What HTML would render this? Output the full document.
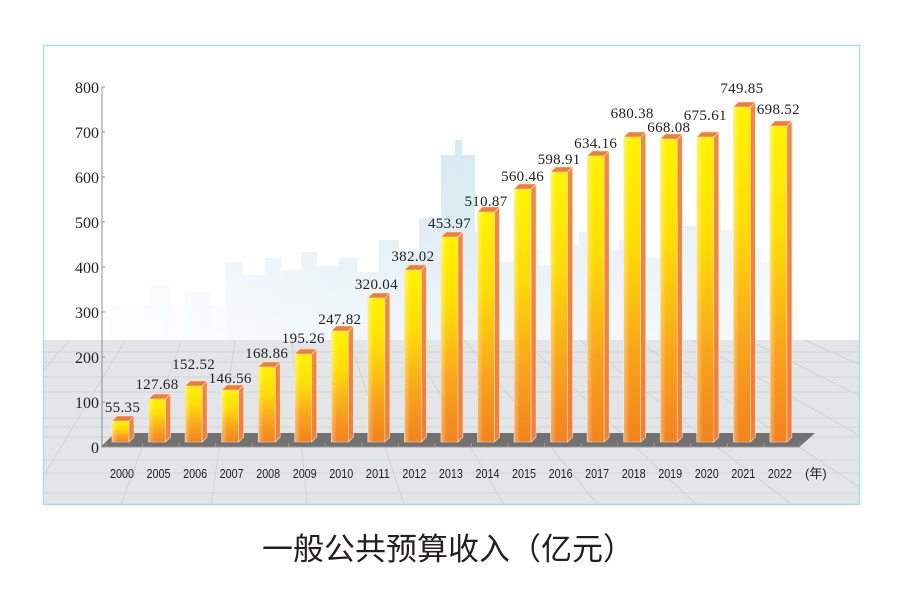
<!DOCTYPE html>
<html><head><meta charset="utf-8"><style>
html,body{margin:0;padding:0;background:#fff;}
svg{display:block;}
.v{font-family:"Liberation Serif",serif;font-size:15px;fill:#222;letter-spacing:0.3px;}
.y{font-family:"Liberation Serif",serif;font-size:16px;fill:#222;}
.x{font-family:"Liberation Sans",sans-serif;font-size:12.5px;fill:#222;}
</style></head><body>
<svg width="900" height="596" viewBox="0 0 900 596" xmlns="http://www.w3.org/2000/svg">
<defs>
<linearGradient id="gf" x1="0" y1="0" x2="0" y2="1">
<stop offset="0" stop-color="#fff400"/><stop offset="0.35" stop-color="#ffdc06"/><stop offset="0.7" stop-color="#f9a51c"/><stop offset="1" stop-color="#f2821f"/>
</linearGradient>
<linearGradient id="gh" x1="0" y1="0" x2="1" y2="0">
<stop offset="0" stop-color="#fff" stop-opacity="0.35"/><stop offset="0.35" stop-color="#fff" stop-opacity="0"/>
</linearGradient>
<linearGradient id="gs" x1="0" y1="0" x2="0" y2="1">
<stop offset="0" stop-color="#f08848"/><stop offset="1" stop-color="#ee8040"/>
</linearGradient>
<linearGradient id="haze" x1="0" y1="0" x2="0" y2="1">
<stop offset="0" stop-color="#fff" stop-opacity="0"/><stop offset="0.6" stop-color="#fff" stop-opacity="0.25"/><stop offset="1" stop-color="#fff" stop-opacity="0.55"/>
</linearGradient>
<linearGradient id="hfade" x1="0" y1="0" x2="1" y2="0">
<stop offset="0" stop-color="#fff" stop-opacity="1"/><stop offset="0.12" stop-color="#fff" stop-opacity="0.55"/><stop offset="0.42" stop-color="#fff" stop-opacity="0"/><stop offset="0.8" stop-color="#fff" stop-opacity="0.15"/><stop offset="1" stop-color="#fff" stop-opacity="0.85"/>
</linearGradient>
<clipPath id="floor"><rect x="43" y="340" width="817" height="165"/></clipPath>
</defs>

<!-- panel -->
<rect x="43" y="45" width="817" height="460" fill="#fff"/>
<!-- city -->
<g fill="#dcebf3" opacity="0.85">
<rect x="110" y="305" width="115" height="35" fill="#eaf3f7"/>
<rect x="150" y="285" width="20" height="55" fill="#e6f1f6"/>
<rect x="185" y="292" width="25" height="48" fill="#e6f1f6"/>
<rect x="225" y="262" width="18" height="78"/>
<rect x="243" y="275" width="22" height="65"/>
<rect x="265" y="258" width="16" height="82"/>
<rect x="281" y="270" width="20" height="70"/>
<rect x="301" y="252" width="16" height="88"/>
<rect x="317" y="266" width="22" height="74"/>
<rect x="339" y="258" width="18" height="82"/>
<rect x="357" y="272" width="22" height="68"/>
<rect x="379" y="240" width="20" height="100"/>
<rect x="399" y="252" width="20" height="88"/>
<rect x="419" y="218" width="22" height="122" fill="#d4e7f1"/>
<rect x="441" y="155" width="34" height="185" fill="#d0e4ef"/>
<rect x="455" y="140" width="7" height="18" fill="#d0e4ef"/>
<rect x="475" y="232" width="24" height="108" fill="#d6e8f1"/>
<rect x="499" y="262" width="20" height="78"/>
<rect x="519" y="250" width="20" height="90"/>
<rect x="539" y="265" width="20" height="75"/>
<rect x="559" y="245" width="20" height="95"/>
<rect x="579" y="232" width="20" height="108"/>
<rect x="599" y="250" width="20" height="90"/>
<rect x="619" y="240" width="22" height="100"/>
<rect x="641" y="258" width="20" height="82"/>
<rect x="661" y="212" width="22" height="128"/>
<rect x="683" y="226" width="18" height="114"/>
<rect x="701" y="200" width="20" height="140"/>
<rect x="721" y="230" width="20" height="110"/>
<rect x="741" y="248" width="20" height="92"/>
<rect x="761" y="262" width="30" height="78"/>
</g>
<rect x="43" y="130" width="817" height="210" fill="url(#haze)"/>
<rect x="43" y="130" width="817" height="210" fill="url(#hfade)"/>

<!-- floor -->
<rect x="43" y="340" width="817" height="165" fill="#e3e6e8"/>
<g clip-path="url(#floor)" stroke="#cdd1d4" stroke-width="0.9" fill="none">
<line x1="270" y1="100" x2="-259" y2="505"/>
<line x1="270" y1="100" x2="-164" y2="505"/>
<line x1="270" y1="100" x2="-69" y2="505"/>
<line x1="270" y1="100" x2="26" y2="505"/>
<line x1="270" y1="100" x2="121" y2="505"/>
<line x1="270" y1="100" x2="211" y2="505"/>
<line x1="270" y1="100" x2="307" y2="505"/>
<line x1="270" y1="100" x2="404" y2="505"/>
<line x1="270" y1="100" x2="504" y2="505"/>
<line x1="270" y1="100" x2="598" y2="505"/>
<line x1="270" y1="100" x2="697" y2="505"/>
<line x1="270" y1="100" x2="792" y2="505"/>
<line x1="270" y1="100" x2="887" y2="505"/>
<line x1="270" y1="100" x2="982" y2="505"/>
<line x1="270" y1="100" x2="1077" y2="505"/>
<line x1="270" y1="100" x2="1172" y2="505"/>
</g>
<g stroke="#d3d7d9" stroke-width="0.9">
<line x1="43" y1="352" x2="860" y2="352"/>
<line x1="43" y1="362" x2="860" y2="362"/>
<line x1="43" y1="377" x2="860" y2="377"/>
<line x1="43" y1="392" x2="860" y2="392"/>
<line x1="43" y1="418" x2="860" y2="418"/>
<line x1="43" y1="427" x2="860" y2="427"/>
<line x1="43" y1="437" x2="860" y2="437"/>
<line x1="43" y1="460" x2="860" y2="460"/>
<line x1="43" y1="473" x2="860" y2="473"/>
<line x1="43" y1="493" x2="860" y2="493"/>
</g>
<rect x="43.5" y="45.5" width="816" height="459" fill="none" stroke="#a9dfe9" stroke-width="1.5"/>

<!-- slab -->
<polygon points="101,446.5 115,433 815,433 800,446.5" fill="#727272"/>
<g stroke="#9a9a9a" stroke-width="1">
<line x1="101" y1="447" x2="800" y2="447"/>
<line x1="106" y1="443" x2="106" y2="447"/><line x1="142.5" y1="443" x2="142.5" y2="447"/><line x1="179.1" y1="443" x2="179.1" y2="447"/><line x1="215.6" y1="443" x2="215.6" y2="447"/><line x1="252.2" y1="443" x2="252.2" y2="447"/><line x1="288.7" y1="443" x2="288.7" y2="447"/><line x1="325.3" y1="443" x2="325.3" y2="447"/><line x1="361.8" y1="443" x2="361.8" y2="447"/><line x1="398.4" y1="443" x2="398.4" y2="447"/><line x1="434.9" y1="443" x2="434.9" y2="447"/><line x1="471.5" y1="443" x2="471.5" y2="447"/><line x1="508" y1="443" x2="508" y2="447"/><line x1="544.6" y1="443" x2="544.6" y2="447"/><line x1="581.1" y1="443" x2="581.1" y2="447"/><line x1="617.7" y1="443" x2="617.7" y2="447"/><line x1="654.2" y1="443" x2="654.2" y2="447"/><line x1="690.8" y1="443" x2="690.8" y2="447"/><line x1="727.3" y1="443" x2="727.3" y2="447"/><line x1="763.9" y1="443" x2="763.9" y2="447"/><line x1="800" y1="443" x2="800" y2="447"/>
</g>

<!-- y axis -->
<g stroke="#8c8c8c" stroke-width="1">
<line x1="102" y1="87" x2="102" y2="447"/>
<line x1="102" y1="87" x2="105" y2="87"/><line x1="102" y1="132" x2="105" y2="132"/><line x1="102" y1="177" x2="105" y2="177"/><line x1="102" y1="222" x2="105" y2="222"/><line x1="102" y1="267" x2="105" y2="267"/><line x1="102" y1="312" x2="105" y2="312"/><line x1="102" y1="357" x2="105" y2="357"/><line x1="102" y1="402" x2="105" y2="402"/>
</g>
<g class="y" text-anchor="end">
<text x="99" y="93">800</text><text x="99" y="138">700</text><text x="99" y="183">600</text><text x="99" y="228">500</text><text x="99" y="273">400</text><text x="99" y="318">300</text><text x="99" y="363">200</text><text x="99" y="408">100</text><text x="99" y="453">0</text>
</g>

<!-- bars -->
<g stroke="#ffe2c4" stroke-width="0.6" stroke-linejoin="round">
<g transform="translate(112,0)"><rect x="0" y="421" width="17" height="21" fill="url(#gf)"/><rect x="0" y="421" width="17" height="21" fill="url(#gh)" stroke="none"/><polygon points="17,421 22,416 22,437 17,442" fill="url(#gs)"/><polygon points="0,421 5,416 22,416 17,421" fill="#f07c3a"/></g>
<g transform="translate(148.55,0)"><rect x="0" y="399" width="17" height="43" fill="url(#gf)"/><rect x="0" y="399" width="17" height="43" fill="url(#gh)" stroke="none"/><polygon points="17,399 22,394 22,437 17,442" fill="url(#gs)"/><polygon points="0,399 5,394 22,394 17,399" fill="#f07c3a"/></g>
<g transform="translate(185.1,0)"><rect x="0" y="386" width="17" height="56" fill="url(#gf)"/><rect x="0" y="386" width="17" height="56" fill="url(#gh)" stroke="none"/><polygon points="17,386 22,381 22,437 17,442" fill="url(#gs)"/><polygon points="0,386 5,381 22,381 17,386" fill="#f07c3a"/></g>
<g transform="translate(221.65,0)"><rect x="0" y="390" width="17" height="52" fill="url(#gf)"/><rect x="0" y="390" width="17" height="52" fill="url(#gh)" stroke="none"/><polygon points="17,390 22,385 22,437 17,442" fill="url(#gs)"/><polygon points="0,390 5,385 22,385 17,390" fill="#f07c3a"/></g>
<g transform="translate(258.2,0)"><rect x="0" y="367" width="17" height="75" fill="url(#gf)"/><rect x="0" y="367" width="17" height="75" fill="url(#gh)" stroke="none"/><polygon points="17,367 22,362 22,437 17,442" fill="url(#gs)"/><polygon points="0,367 5,362 22,362 17,367" fill="#f07c3a"/></g>
<g transform="translate(294.75,0)"><rect x="0" y="354" width="17" height="88" fill="url(#gf)"/><rect x="0" y="354" width="17" height="88" fill="url(#gh)" stroke="none"/><polygon points="17,354 22,349 22,437 17,442" fill="url(#gs)"/><polygon points="0,354 5,349 22,349 17,354" fill="#f07c3a"/></g>
<g transform="translate(331.3,0)"><rect x="0" y="331" width="17" height="111" fill="url(#gf)"/><rect x="0" y="331" width="17" height="111" fill="url(#gh)" stroke="none"/><polygon points="17,331 22,326 22,437 17,442" fill="url(#gs)"/><polygon points="0,331 5,326 22,326 17,331" fill="#f07c3a"/></g>
<g transform="translate(367.85,0)"><rect x="0" y="298" width="17" height="144" fill="url(#gf)"/><rect x="0" y="298" width="17" height="144" fill="url(#gh)" stroke="none"/><polygon points="17,298 22,293 22,437 17,442" fill="url(#gs)"/><polygon points="0,298 5,293 22,293 17,298" fill="#f07c3a"/></g>
<g transform="translate(404.4,0)"><rect x="0" y="270" width="17" height="172" fill="url(#gf)"/><rect x="0" y="270" width="17" height="172" fill="url(#gh)" stroke="none"/><polygon points="17,270 22,265 22,437 17,442" fill="url(#gs)"/><polygon points="0,270 5,265 22,265 17,270" fill="#f07c3a"/></g>
<g transform="translate(440.95,0)"><rect x="0" y="237" width="17" height="205" fill="url(#gf)"/><rect x="0" y="237" width="17" height="205" fill="url(#gh)" stroke="none"/><polygon points="17,237 22,232 22,437 17,442" fill="url(#gs)"/><polygon points="0,237 5,232 22,232 17,237" fill="#f07c3a"/></g>
<g transform="translate(477.5,0)"><rect x="0" y="212" width="17" height="230" fill="url(#gf)"/><rect x="0" y="212" width="17" height="230" fill="url(#gh)" stroke="none"/><polygon points="17,212 22,207 22,437 17,442" fill="url(#gs)"/><polygon points="0,212 5,207 22,207 17,212" fill="#f07c3a"/></g>
<g transform="translate(514.05,0)"><rect x="0" y="189" width="17" height="253" fill="url(#gf)"/><rect x="0" y="189" width="17" height="253" fill="url(#gh)" stroke="none"/><polygon points="17,189 22,184 22,437 17,442" fill="url(#gs)"/><polygon points="0,189 5,184 22,184 17,189" fill="#f07c3a"/></g>
<g transform="translate(550.6,0)"><rect x="0" y="172" width="17" height="270" fill="url(#gf)"/><rect x="0" y="172" width="17" height="270" fill="url(#gh)" stroke="none"/><polygon points="17,172 22,167 22,437 17,442" fill="url(#gs)"/><polygon points="0,172 5,167 22,167 17,172" fill="#f07c3a"/></g>
<g transform="translate(587.15,0)"><rect x="0" y="156" width="17" height="286" fill="url(#gf)"/><rect x="0" y="156" width="17" height="286" fill="url(#gh)" stroke="none"/><polygon points="17,156 22,151 22,437 17,442" fill="url(#gs)"/><polygon points="0,156 5,151 22,151 17,156" fill="#f07c3a"/></g>
<g transform="translate(623.7,0)"><rect x="0" y="137" width="17" height="305" fill="url(#gf)"/><rect x="0" y="137" width="17" height="305" fill="url(#gh)" stroke="none"/><polygon points="17,137 22,132 22,437 17,442" fill="url(#gs)"/><polygon points="0,137 5,132 22,132 17,137" fill="#f07c3a"/></g>
<g transform="translate(660.25,0)"><rect x="0" y="139" width="17" height="303" fill="url(#gf)"/><rect x="0" y="139" width="17" height="303" fill="url(#gh)" stroke="none"/><polygon points="17,139 22,134 22,437 17,442" fill="url(#gs)"/><polygon points="0,139 5,134 22,134 17,139" fill="#f07c3a"/></g>
<g transform="translate(696.8,0)"><rect x="0" y="137" width="17" height="305" fill="url(#gf)"/><rect x="0" y="137" width="17" height="305" fill="url(#gh)" stroke="none"/><polygon points="17,137 22,132 22,437 17,442" fill="url(#gs)"/><polygon points="0,137 5,132 22,132 17,137" fill="#f07c3a"/></g>
<g transform="translate(733.35,0)"><rect x="0" y="107" width="17" height="335" fill="url(#gf)"/><rect x="0" y="107" width="17" height="335" fill="url(#gh)" stroke="none"/><polygon points="17,107 22,102 22,437 17,442" fill="url(#gs)"/><polygon points="0,107 5,102 22,102 17,107" fill="#f07c3a"/></g>
<g transform="translate(769.9,0)"><rect x="0" y="126" width="17" height="316" fill="url(#gf)"/><rect x="0" y="126" width="17" height="316" fill="url(#gh)" stroke="none"/><polygon points="17,126 22,121 22,437 17,442" fill="url(#gs)"/><polygon points="0,126 5,121 22,121 17,126" fill="#f07c3a"/></g>
</g>

<!-- value labels -->
<g class="v" text-anchor="middle">
<text x="122.5" y="412">55.35</text>
<text x="157" y="389">127.68</text>
<text x="193.6" y="369">152.52</text>
<text x="230.2" y="383">146.56</text>
<text x="266.7" y="358">168.86</text>
<text x="303.3" y="343">195.26</text>
<text x="339.8" y="324">247.82</text>
<text x="376.4" y="289">320.04</text>
<text x="412.9" y="261">382.02</text>
<text x="449.5" y="228">453.97</text>
<text x="486" y="206">510.87</text>
<text x="522.6" y="181">560.46</text>
<text x="559.1" y="164">598.91</text>
<text x="595.7" y="148">634.16</text>
<text x="632.2" y="118">680.38</text>
<text x="668.8" y="132">668.08</text>
<text x="705.3" y="120">675.61</text>
<text x="741.9" y="93">749.85</text>
<text x="778.4" y="114">698.52</text>
</g>

<!-- x labels -->
<g class="x" text-anchor="middle">
<text x="122" y="478" textLength="24" lengthAdjust="spacingAndGlyphs">2000</text>
<text x="158.5" y="478" textLength="24" lengthAdjust="spacingAndGlyphs">2005</text>
<text x="195.1" y="478" textLength="24" lengthAdjust="spacingAndGlyphs">2006</text>
<text x="231.6" y="478" textLength="24" lengthAdjust="spacingAndGlyphs">2007</text>
<text x="268.2" y="478" textLength="24" lengthAdjust="spacingAndGlyphs">2008</text>
<text x="304.7" y="478" textLength="24" lengthAdjust="spacingAndGlyphs">2009</text>
<text x="341.3" y="478" textLength="24" lengthAdjust="spacingAndGlyphs">2010</text>
<text x="377.8" y="478" textLength="24" lengthAdjust="spacingAndGlyphs">2011</text>
<text x="414.4" y="478" textLength="24" lengthAdjust="spacingAndGlyphs">2012</text>
<text x="450.9" y="478" textLength="24" lengthAdjust="spacingAndGlyphs">2013</text>
<text x="487.5" y="478" textLength="24" lengthAdjust="spacingAndGlyphs">2014</text>
<text x="524" y="478" textLength="24" lengthAdjust="spacingAndGlyphs">2015</text>
<text x="560.6" y="478" textLength="24" lengthAdjust="spacingAndGlyphs">2016</text>
<text x="597.1" y="478" textLength="24" lengthAdjust="spacingAndGlyphs">2017</text>
<text x="633.7" y="478" textLength="24" lengthAdjust="spacingAndGlyphs">2018</text>
<text x="670.2" y="478" textLength="24" lengthAdjust="spacingAndGlyphs">2019</text>
<text x="706.8" y="478" textLength="24" lengthAdjust="spacingAndGlyphs">2020</text>
<text x="743.3" y="478" textLength="24" lengthAdjust="spacingAndGlyphs">2021</text>
<text x="779.9" y="478" textLength="24" lengthAdjust="spacingAndGlyphs">2022</text>
</g>
<text x="805" y="478" font-family="'Liberation Sans','Noto Sans CJK SC',sans-serif" font-size="13" fill="#222">(年)</text>

<!-- title -->
<text x="262" y="560" font-family="'Liberation Sans','Noto Sans CJK SC',sans-serif" font-size="31" fill="#231f20">一般公共预算收入（亿元）</text>
</svg>
</body></html>
